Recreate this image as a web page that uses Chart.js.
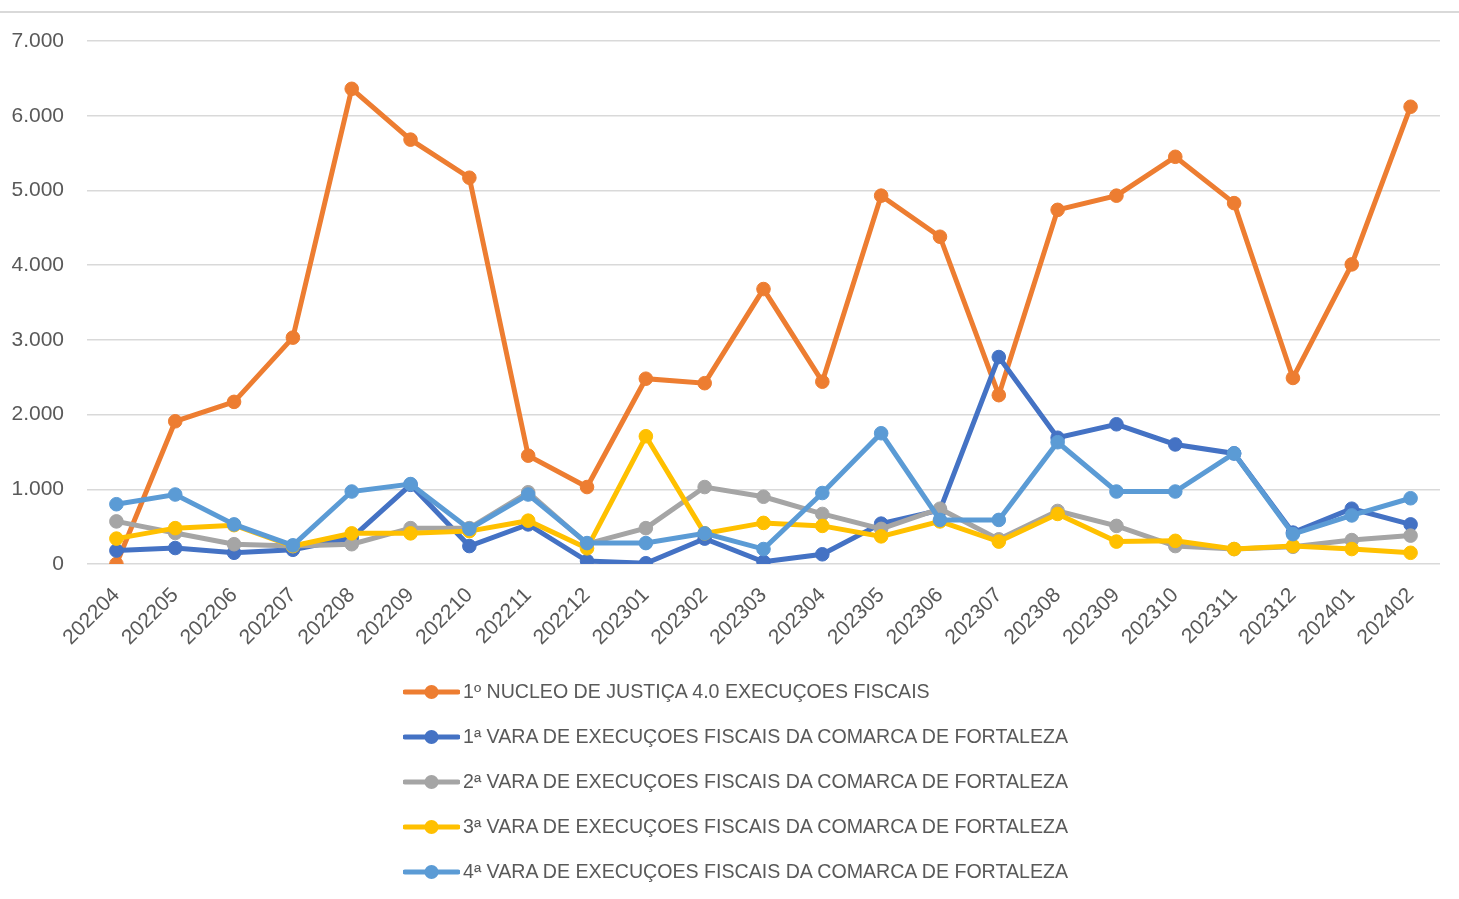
<!DOCTYPE html>
<html>
<head>
<meta charset="utf-8">
<script src="https://cdn.jsdelivr.net/npm/chart.js@4"></script>
<style>
    body { margin: 0; background: #fff; font-family: 'Liberation Sans', Arial, sans-serif; }
    #wrap { position: relative; width: 1459px; height: 899px; overflow: hidden; }
    #topLine { position: absolute; left: 0; top: 11px; width: 1459px; height: 2px; background: #d9d9d9; }
    #chartBox { position: absolute; left: 0; top: 0; width: 1459px; height: 660px; }
    #legend { position: absolute; left: 403px; top: 669px; }
    .legend-item { display: flex; align-items: center; height: 45px; color: #595959; font-size: 19.6px; }
    .legend-item canvas { margin-right: 3px; }
</style>
</head>
<body>
<div id="wrap">
    <div id="topLine"></div>
    <div id="chartBox"><canvas id="chart"></canvas></div>
    <div id="legend"></div>
</div>
<script>
// Months (x axis)
const months = ['202204', '202205', '202206', '202207', '202208', '202209', '202210', '202211', '202212',
    '202301', '202302', '202303', '202304', '202305', '202306', '202307', '202308', '202309', '202310',
    '202311', '202312', '202401', '202402'];

// Series values
const nucleo = [0, 1910, 2170, 3030, 6360, 5680, 5170, 1450, 1030, 2480, 2420, 3680, 2440, 4930, 4380,
    2260, 4740, 4930, 5450, 4830, 2490, 4010, 6120];
const vara1 = [180, 214, 150, 190, 350, 1060, 240, 530, 40, 10, 340, 30, 130, 540, 720,
    2770, 1690, 1870, 1600, 1480, 420, 740, 530];
const vara2 = [570, 415, 265, 240, 265, 480, 480, 960, 270, 480, 1030, 900, 670, 470, 740,
    330, 710, 510, 240, 200, 230, 320, 380];
const vara3 = [340, 480, 520, 240, 410, 410, 440, 580, 210, 1710, 410, 550, 510, 370, 570,
    300, 670, 300, 310, 200, 240, 200, 150];
const vara4 = [800, 930, 530, 250, 970, 1070, 470, 930, 280, 280, 410, 200, 950, 1750, 590,
    590, 1630, 970, 970, 1480, 400, 650, 880];

const seriesNames = [
    '1º NUCLEO DE JUSTIÇA 4.0 EXECUÇOES FISCAIS',
    '1ª VARA DE EXECUÇOES FISCAIS DA COMARCA DE FORTALEZA',
    '2ª VARA DE EXECUÇOES FISCAIS DA COMARCA DE FORTALEZA',
    '3ª VARA DE EXECUÇOES FISCAIS DA COMARCA DE FORTALEZA',
    '4ª VARA DE EXECUÇOES FISCAIS DA COMARCA DE FORTALEZA'
];
const seriesColors = ['#ED7D31', '#4472C4', '#A5A5A5', '#FFC000', '#5B9BD5'];
const seriesData = [nucleo, vara1, vara2, vara3, vara4];

const yMax = 7000;
const yStep = 1000;

function fmt(v) {
    return String(v).replace(/\B(?=(\d{3})+(?!\d))/g, '.');
}

const datasets = seriesData.map((data, i) => ({
    label: seriesNames[i],
    data: data,
    borderColor: seriesColors[i],
    backgroundColor: seriesColors[i],
    pointBackgroundColor: seriesColors[i],
    pointBorderColor: seriesColors[i],
    borderWidth: 5,
    pointRadius: 6.8,
    pointBorderWidth: 1,
    tension: 0,
    // later series drawn on top, like Excel
    order: seriesData.length - i
}));

const ctx = document.getElementById('chart').getContext('2d');
const chart = new Chart(ctx, {
    type: 'line',
    data: { labels: months, datasets: datasets },
    options: {
        responsive: true,
        maintainAspectRatio: false,
        animation: false,
        layout: { padding: { left: 0, right: 19, top: 41, bottom: 0 } },
        plugins: { legend: { display: false }, tooltip: { enabled: false } },
        scales: {
            x: {
                offset: true,
                grid: { display: false, drawTicks: false },
                border: { display: false },
                ticks: {
                    color: '#595959',
                    font: { family: 'Liberation Sans', size: 21 },
                    maxRotation: 45,
                    minRotation: 45,
                    autoSkip: false,
                    padding: 19
                },
                afterFit: s => { s.height = 96; }
            },
            y: {
                min: 0,
                max: yMax,
                grid: { color: '#d9d9d9', lineWidth: 1.5, drawTicks: false },
                border: { display: false },
                ticks: {
                    stepSize: yStep,
                    color: '#595959',
                    font: { family: 'Liberation Sans', size: 21 },
                    padding: 23,
                    callback: v => fmt(v)
                },
                afterFit: s => { s.width = 87; }
            }
        }
    }
});

// HTML legend, one entry per row
const legendEl = document.getElementById('legend');
chart.data.datasets.forEach(ds => {
    const row = document.createElement('div');
    row.className = 'legend-item';
    const sw = document.createElement('canvas');
    sw.width = 57;
    sw.height = 20;
    const c = sw.getContext('2d');
    c.strokeStyle = ds.borderColor;
    c.lineWidth = 5;
    c.lineCap = 'round';
    c.beginPath();
    c.moveTo(2, 10);
    c.lineTo(55, 10);
    c.stroke();
    c.fillStyle = ds.borderColor;
    c.beginPath();
    c.arc(28.5, 10, 7, 0, Math.PI * 2);
    c.fill();
    const txt = document.createElement('span');
    txt.textContent = ds.label;
    row.appendChild(sw);
    row.appendChild(txt);
    legendEl.appendChild(row);
});
</script>
</body>
</html>
